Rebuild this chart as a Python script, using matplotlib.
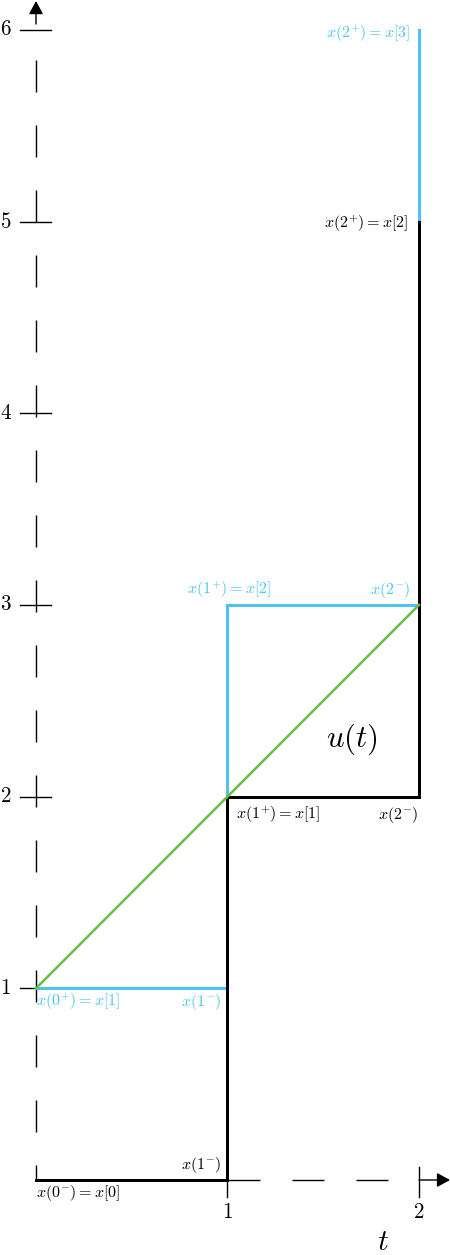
import matplotlib
matplotlib.use('Agg')
import matplotlib.pyplot as plt
import numpy as np

plt.rcParams['mathtext.fontset'] = 'cm'
plt.rcParams['font.family'] = 'DejaVu Serif'
plt.rcParams['lines.scale_dashes'] = False

# data
black_t = [0, 1, 1, 2, 2]
black_x = [0, 0, 2, 2, 5]
cyan_t = [0, 1, 1, 2, 2]
cyan_x = [1, 1, 3, 3, 6]
u_t = [0, 2]
u_x = [1, 3]
xticks = [1, 2]
yticks = [1, 2, 3, 4, 5, 6]

black = '#000000'
cyan = '#4cc4f0'
green = '#6abc42'

DPI = 72
fig = plt.figure(figsize=(450 / DPI, 1255 / DPI), dpi=DPI)
ax = fig.add_axes([0, 0, 1, 1])
ax.set_xlim(-36 / 191.5, 414 / 191.5)
ax.set_ylim(-75 / 191.7, 1180 / 191.7)
ax.axis('off')

# axes, dashed
arrow = '-|>,head_length=0.55,head_width=0.3'
ax.plot([0, 0], [0, 6.0], color='k', lw=1.4, linestyle=(17, (32, 33)), zorder=1)
ax.plot([0, 2.0], [0, 0], color='k', lw=1.4, linestyle=(0, (32, 32)), zorder=1)
ax.annotate('', xy=(0, 6.15), xytext=(0, 6.03),
            arrowprops=dict(arrowstyle=arrow, color='k', lw=1.4, mutation_scale=20,
                            shrinkA=0, shrinkB=0))
ax.annotate('', xy=(2.162, 0), xytext=(2.0, 0),
            arrowprops=dict(arrowstyle=arrow, color='k', lw=1.4, mutation_scale=20,
                            shrinkA=0, shrinkB=0))

# ticks
for y in yticks:
    ax.plot([-0.083, 0.078], [y, y], color='k', lw=1.4, zorder=1)
    ax.text(-0.157, y, '$%d$' % y, fontsize=21, ha='center', va='center')
for x in xticks:
    ax.plot([x, x], [-0.09, 0.07], color='k', lw=1.4, zorder=1)
    ax.text(x, -0.17, '$%d$' % x, fontsize=21, ha='center', va='center')
ax.text(1.81, -0.325, '$t$', fontsize=30, ha='center', va='center')

# curves
ax.plot(cyan_t, cyan_x, color=cyan, lw=3, solid_joinstyle='miter', zorder=2)
ax.plot(black_t, black_x, color=black, lw=3, solid_joinstyle='miter', zorder=3)
ax.plot(u_t, u_x, color=green, lw=2.5, zorder=4)
ax.text(1.65, 2.3, '$u(t)$', fontsize=31, ha='center', va='center')

# labels
fs = 16
ax.text(0.0, -0.068, '$x(0^{-}) = x[0]$', fontsize=fs, color=black, ha='left', va='center')
ax.text(0.97, 0.078, '$x(1^{-})$', fontsize=fs, color=black, ha='right', va='center')
ax.text(0.0, 0.928, '$x(0^{+}) = x[1]$', fontsize=fs, color=cyan, ha='left', va='center')
ax.text(0.97, 0.928, '$x(1^{-})$', fontsize=fs, color=cyan, ha='right', va='center')
ax.text(1.045, 1.904, '$x(1^{+}) = x[1]$', fontsize=fs, color=black, ha='left', va='center')
ax.text(1.995, 1.904, '$x(2^{-})$', fontsize=fs, color=black, ha='right', va='center')
ax.text(1.01, 3.078, '$x(1^{+}) = x[2]$', fontsize=fs, color=cyan, ha='center', va='center')
ax.text(1.955, 3.078, '$x(2^{-})$', fontsize=fs, color=cyan, ha='right', va='center')
ax.text(1.955, 5.978, '$x(2^{+}) = x[3]$', fontsize=fs, color=cyan, ha='right', va='center')
ax.text(1.945, 4.987, '$x(2^{+}) = x[2]$', fontsize=fs, color=black, ha='right', va='center')

fig.savefig('out.png', dpi=DPI)
